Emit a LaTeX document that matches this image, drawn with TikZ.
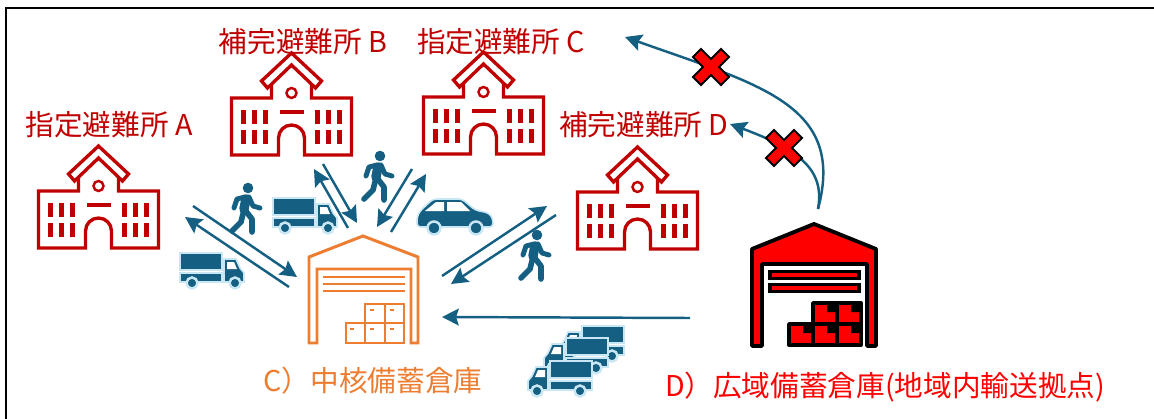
\documentclass[tikz,border=0pt]{standalone}
\usepackage{fontspec}
\setmainfont{Noto Sans CJK JP}
\usetikzlibrary{arrows.meta}
\definecolor{ShelterRed}{HTML}{C00000}
\definecolor{CoreOrange}{HTML}{ED7D31}
\definecolor{RouteBlue}{HTML}{156082}
\definecolor{HaloBlue}{HTML}{C9E6F4}
\tikzstyle{frameBox}=[draw=black, line width=1pt]
\tikzstyle{shelterLabel}=[text=ShelterRed, font=\fontsize{16.3}{18}\selectfont, inner sep=0pt]
\tikzstyle{coreLabel}=[text=CoreOrange, font=\fontsize{16.3}{18}\selectfont, inner sep=0pt]
\tikzstyle{wideLabel}=[text=red, font=\fontsize{16.3}{18}\selectfont, inner sep=0pt]
\tikzstyle{shelterLine}=[draw=ShelterRed, line width=1.9pt, line join=miter]
\tikzstyle{coreLine}=[draw=CoreOrange, line width=1.7pt, line join=miter]
\tikzstyle{wideLine}=[draw=black, line width=2.2pt, line join=round, fill=red]
\tikzstyle{routeArrow}=[-{Stealth[length=9.5pt,width=9.5pt,inset=1.5pt]}, draw=RouteBlue, line width=1.4pt]
\tikzstyle{vehicleBody}=[fill=RouteBlue, draw=HaloBlue, line width=0.9pt]
\tikzstyle{personLine}=[draw=RouteBlue, line cap=round, line join=round]
\tikzstyle{blockedMark}=[fill=red, draw=black, line width=1.2pt, line join=miter]

% Shelter building, origin at the bottom centre
\newcommand{\Shelter}[2]{
    \begin{scope}[shift={(#1,#2)}]
        \draw[shelterLine] (-20,-70) -- (-20,-57) -- (-60,-57) -- (-60,0) -- (-13,0) -- (-13,-17) arc[start angle=180,end angle=360,radius=13] -- (13,0) -- (60,0) -- (60,-57) -- (20,-57) -- (20,-70);
        \draw[shelterLine] (0,-102) -- (30,-74) -- (24,-67) -- (0,-90) -- (-24,-67) -- (-30,-74) -- cycle;
        \draw[shelterLine, line width=1.4pt] (0,-62) circle (5);
        \draw[shelterLine, line width=2.2pt] (-12,-43) -- (12,-43);
        % Windows
        \draw[shelterLine, line width=2.4pt] (-48,-45) -- (-48,-31) (-37,-45) -- (-37,-31) (-26,-45) -- (-26,-31)
            (-48,-25) -- (-48,-11) (-37,-25) -- (-37,-11) (-26,-25) -- (-26,-11)
            (48,-45) -- (48,-31) (37,-45) -- (37,-31) (26,-45) -- (26,-31)
            (48,-25) -- (48,-11) (37,-25) -- (37,-11) (26,-25) -- (26,-11);
    \end{scope}
}

% Walking person, origin at the head
\newcommand{\Walker}[2]{
    \begin{scope}[shift={(#1,#2)}]
        \fill[RouteBlue] (0,0) circle (5.3);
        \draw[personLine, line width=5.4pt] (-2,11) -- (-4,21);
        \draw[personLine, line width=2.8pt] (-3,9) -- (-11,11) -- (-14,20);
        \draw[personLine, line width=2.8pt] (1,9) -- (5,18) -- (12,20);
        \draw[personLine, line width=3.2pt] (-4,22) -- (-7,34) -- (-16,43);
        \draw[personLine, line width=3.2pt] (-3,22) -- (4,31) -- (4,44);
    \end{scope}
}

% Truck, origin at the top left of the load, third argument mirrors it
\newcommand{\Truck}[3]{
    \begin{scope}[shift={(#1,#2)}, xscale=#3]
        \path[vehicleBody] (0,0) rectangle (42,17);
        \path[vehicleBody] (0,20) rectangle (42,29);
        \path[vehicleBody] (44,6) -- (56,6) -- (60,15) -- (64,20) -- (64,29) -- (44,29) -- cycle;
        \fill[white] (47,9) -- (54,9) -- (57,16) -- (47,16) -- cycle;
        \path[vehicleBody, line width=1.4pt] (12,30) circle (5.5);
        \path[vehicleBody, line width=1.4pt] (55,30) circle (5.5);
    \end{scope}
}

% Blocked route mark
\newcommand{\Blocked}[2]{
    \path[blockedMark, shift={(#1,#2)}] (0,-8) -- (10,-18) -- (18,-10) -- (8,0) -- (18,10) -- (10,18) -- (0,8) -- (-10,18) -- (-18,10) -- (-8,0) -- (-18,-10) -- (-10,-18) -- cycle;
}

\begin{document}
\begin{tikzpicture}[x=0.02cm, y=-0.02cm]
    \useasboundingbox (0,0) rectangle (1154,419);
    \path[frameBox] (6,430) -- (6,8) -- (1160,8);

    % Shelters
    \Shelter{98.5}{248}
    \Shelter{291.5}{155}
    \Shelter{483.5}{154}
    \Shelter{637.5}{249}
    \node[shelterLabel] (labelA) at (109,125) {指定避難所 A};
    \node[shelterLabel] (labelB) at (303,42) {補完避難所 B};
    \node[shelterLabel] (labelC) at (501,42) {指定避難所 C};
    \node[shelterLabel] (labelD) at (644,125) {補完避難所 D};

    % Core warehouse
    \draw[coreLine] (309,343) -- (309,257) -- (363,236) -- (418,257) -- (418,343) -- (411,343) -- (411,269) -- (317,269) -- (317,343) -- cycle;
    \draw[coreLine] (323,277) -- (405,277) (323,284) -- (405,284) (323,291) -- (405,291);
    \draw[coreLine, line width=1.4pt] (365,323) rectangle (385,304) (385,323) rectangle (404,304)
        (346,343) rectangle (365,323) (365,343) rectangle (385,323) (385,343) rectangle (404,323);
    \draw[coreLine, line width=1.4pt] (370,310) -- (374,310) (390,310) -- (394,310)
        (350,329) -- (354,329) (370,329) -- (374,329) (390,329) -- (394,329);
    \node[coreLabel] (labelCore) at (373,381) {C）中核備蓄倉庫};

    % Wide area warehouse
    \path[wideLine] (752,346) -- (752,249) -- (814,224) -- (876,249) -- (876,346) -- (867,346) -- (867,264) -- (762,264) -- (762,346) -- cycle;
    \path[wideLine, line join=miter] (770,271.5) rectangle (859,278.5);
    \path[wideLine, line join=miter] (770,284.5) rectangle (859,291.5);
    \path[wideLine] (813,303) rectangle (837,324);
    \path[wideLine] (837,303) rectangle (861,324);
    \path[wideLine] (789,324) rectangle (813,345);
    \path[wideLine] (813,324) rectangle (837,345);
    \path[wideLine] (837,324) rectangle (861,345);
    \fill (827,303) rectangle (837,312) (851,303) rectangle (861,312)
        (803,324) rectangle (813,333) (827,324) rectangle (837,333) (851,324) rectangle (861,333);
    \node[wideLabel] (labelWide) at (885,387) {D）広域備蓄倉庫(地域内輸送拠点)};

    % People and vehicles
    \Walker{248}{188}
    \Walker{380}{156}
    \Walker{537}{235}
    \Truck{273}{198}{1}
    \Truck{180}{253}{1}
    \Truck{624}{326}{-1}
    \Truck{608}{338}{-1}
    \Truck{592}{361}{-1}

    % Car
    \begin{scope}[shift={(417,199)}]
        \path[vehicleBody, rounded corners=2pt] (0,28) -- (0,18) -- (3,12) -- (16,0) -- (45,0) -- (58,11) -- (72,14) -- (76,20) -- (76,28) -- cycle;
        \fill[white] (8,12) -- (19,3) -- (27,3) -- (27,12) -- cycle;
        \fill[white] (30,3) -- (44,3) -- (53,12) -- (30,12) -- cycle;
        \path[vehicleBody, line width=1.4pt] (17,29) circle (6.5);
        \path[vehicleBody, line width=1.4pt] (59,29) circle (6.5);
    \end{scope}

    % Route ends
    \coordinate (a0) at (193,206);
    \coordinate (a1) at (297,277);
    \coordinate (a2) at (289,287);
    \coordinate (a3) at (185,217);
    \coordinate (b0) at (323,164);
    \coordinate (b1) at (357,223);
    \coordinate (b2) at (348,228);
    \coordinate (b3) at (314,169);
    \coordinate (c0) at (412,169);
    \coordinate (c1) at (377,227);
    \coordinate (c2) at (391,232);
    \coordinate (c3) at (426,174);
    \coordinate (d0) at (442,276);
    \coordinate (d1) at (547,206);
    \coordinate (d2) at (556,215);
    \coordinate (d3) at (451,284);
    \coordinate (wideOut) at (690,318);
    \coordinate (coreIn) at (442,317);
    \coordinate (wideTop) at (818,209);
    \coordinate (farC) at (625,37);
    \coordinate (farD) at (730,124);

    % Routes
    \draw[routeArrow] (a0) -- (a1);
    \draw[routeArrow] (a2) -- (a3);
    \draw[routeArrow] (b0) -- (b1);
    \draw[routeArrow] (b2) -- (b3);
    \draw[routeArrow] (c0) -- (c1);
    \draw[routeArrow] (c2) -- (c3);
    \draw[routeArrow] (d0) -- (d1);
    \draw[routeArrow] (d2) -- (d3);
    \draw[routeArrow] (wideOut) -- (coreIn);
    \draw[routeArrow] (wideTop) .. controls (846,105) and (760,85) .. (farC);
    \draw[routeArrow] (wideTop) .. controls (825,170) and (800,150) .. (farD);

    % Blocked routes
    \Blocked{711}{67}
    \Blocked{784}{148}
\end{tikzpicture}
\end{document}
